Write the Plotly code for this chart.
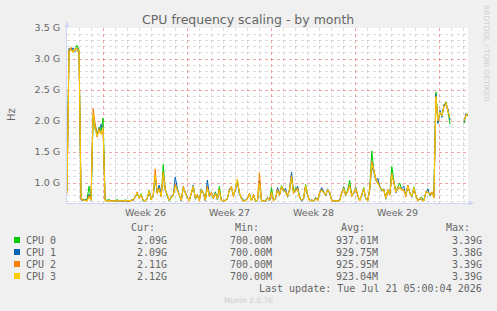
import plotly.graph_objects as go
from datetime import datetime, timedelta

# ---------------- data (GHz, one sample every 4 hours from 2026-06-19 00:00) ----------------
START = datetime(2026, 6, 19)
STEP_HOURS = 4
X_RANGE = ["2026-06-19 00:00", "2026-07-22 08:00"]

cpu0 = [
    0.86, 3.15, 3.18, 3.12, 3.16, 3.22, 3.14, 0.77, 0.73, 0.72,
    0.74, 0.95, 0.73, 2.08, 1.86, 1.78, 1.90, 1.84, 2.05, 0.74,
    0.72, 0.74, 0.71, 0.72, 0.71, 0.74, 0.71, 0.72, 0.71, 0.73,
    0.72, 0.71, 0.72, 0.75, 0.77, 0.83, 0.78, 0.83, 0.72, 0.71,
    0.76, 0.89, 0.73, 0.81, 1.10, 0.84, 0.91, 0.79, 1.30, 0.89,
    0.81, 0.71, 0.77, 0.79, 0.96, 0.91, 0.81, 0.72, 0.94, 0.84,
    0.77, 0.72, 0.85, 0.94, 0.76, 0.81, 0.72, 0.89, 0.85, 0.73,
    0.93, 0.79, 0.85, 0.75, 0.86, 0.75, 0.95, 0.72, 0.72, 0.72,
    0.76, 0.89, 0.94, 0.79, 0.91, 1.05, 0.83, 0.76, 0.71, 0.72,
    0.75, 0.83, 0.72, 0.81, 0.71, 0.72, 1.02, 0.72, 0.71, 0.73,
    0.75, 0.72, 0.93, 0.72, 0.75, 0.89, 0.81, 0.96, 0.89, 0.85,
    0.79, 0.89, 1.08, 0.84, 0.93, 0.91, 0.77, 0.72, 0.76, 0.98,
    0.81, 0.72, 0.73, 0.71, 0.75, 0.72, 0.85, 0.89, 0.85, 0.81,
    0.89, 0.85, 0.73, 0.71, 0.72, 0.71, 0.72, 0.85, 0.94, 0.81,
    0.89, 1.05, 0.79, 0.85, 0.93, 0.81, 0.72, 0.81, 0.93, 0.76,
    0.72, 0.91, 1.52, 1.21, 1.06, 0.99, 0.96, 0.89, 0.89, 0.76,
    0.89, 0.81, 1.27, 1.04, 0.86, 0.94, 1.00, 0.89, 0.89, 0.81,
    0.96, 0.84, 0.79, 0.94, 0.79, 0.72, 0.76, 0.77, 0.72, 0.86,
    0.85, 0.81, 0.85, 0.79, 2.47, 1.98, 2.14, 2.09, 2.24, 2.31,
    2.17, 1.95, None, None, None, None, None, None, 1.96, 2.11,
    2.09,
]

cpu1 = [
    0.90, 3.17, 3.13, 3.18, 3.12, 3.15, 3.12, 0.73, 0.72, 0.74,
    0.72, 0.82, 0.72, 2.05, 1.95, 1.80, 1.82, 1.95, 1.88, 0.73,
    0.71, 0.72, 0.72, 0.71, 0.71, 0.71, 0.72, 0.71, 0.72, 0.71,
    0.71, 0.71, 0.73, 0.72, 0.79, 0.82, 0.77, 0.81, 0.71, 0.73,
    0.74, 0.87, 0.75, 0.78, 1.08, 0.86, 0.97, 0.81, 1.12, 0.91,
    0.79, 0.72, 0.79, 0.81, 1.10, 0.92, 0.83, 0.71, 0.92, 0.86,
    0.75, 0.73, 0.83, 0.97, 0.74, 0.79, 0.73, 0.91, 0.83, 0.71,
    1.05, 0.81, 0.83, 0.77, 0.85, 0.73, 0.86, 0.73, 0.71, 0.72,
    0.74, 0.91, 0.92, 0.81, 0.88, 1.03, 0.82, 0.76, 0.73, 0.72,
    0.76, 0.81, 0.73, 0.79, 0.73, 0.71, 1.04, 0.73, 0.72, 0.71,
    0.77, 0.71, 0.84, 0.73, 0.74, 0.93, 0.83, 0.94, 0.87, 0.92,
    0.77, 0.91, 1.18, 0.86, 0.87, 0.95, 0.79, 0.71, 0.74, 0.96,
    0.79, 0.73, 0.71, 0.72, 0.77, 0.73, 0.83, 0.93, 0.87, 0.79,
    0.91, 0.83, 0.73, 0.72, 0.71, 0.72, 0.73, 0.83, 0.93, 0.79,
    0.87, 0.96, 0.81, 0.83, 0.93, 0.79, 0.73, 0.79, 0.91, 0.74,
    0.73, 0.89, 1.25, 1.18, 1.04, 1.08, 0.94, 0.87, 0.91, 0.74,
    0.87, 0.83, 1.10, 1.03, 0.84, 0.92, 0.93, 0.91, 0.95, 0.79,
    0.94, 0.86, 0.77, 0.92, 0.79, 0.73, 0.74, 0.73, 0.72, 0.84,
    0.91, 0.79, 0.83, 0.79, 2.43, 1.96, 2.18, 2.06, 2.27, 2.26,
    2.20, 2.02, None, None, None, None, None, None, 1.98, 2.12,
    2.09,
]

cpu2 = [
    0.83, 3.14, 3.19, 3.11, 3.15, 3.18, 3.12, 0.74, 0.73, 0.72,
    0.72, 0.80, 0.73, 2.20, 1.92, 1.74, 1.88, 1.80, 1.86, 0.72,
    0.72, 0.71, 0.72, 0.71, 0.71, 0.72, 0.72, 0.71, 0.71, 0.72,
    0.71, 0.72, 0.71, 0.73, 0.77, 0.86, 0.75, 0.80, 0.73, 0.71,
    0.76, 0.86, 0.73, 0.82, 1.23, 0.83, 0.92, 0.78, 1.18, 0.88,
    0.82, 0.73, 0.76, 0.82, 0.98, 0.88, 0.80, 0.73, 0.95, 0.83,
    0.78, 0.71, 0.86, 0.93, 0.76, 0.82, 0.71, 0.88, 0.86, 0.73,
    0.95, 0.78, 0.86, 0.75, 0.82, 0.76, 0.90, 0.71, 0.73, 0.72,
    0.76, 0.88, 0.95, 0.78, 0.92, 1.02, 0.86, 0.74, 0.71, 0.72,
    0.74, 0.84, 0.71, 0.82, 0.71, 0.73, 1.17, 0.71, 0.72, 0.71,
    0.75, 0.73, 0.86, 0.71, 0.76, 0.90, 0.80, 0.93, 0.90, 0.88,
    0.80, 0.88, 1.12, 0.83, 0.90, 0.92, 0.76, 0.73, 0.76, 0.95,
    0.82, 0.71, 0.73, 0.72, 0.75, 0.71, 0.86, 0.90, 0.84, 0.82,
    0.88, 0.86, 0.71, 0.72, 0.71, 0.72, 0.71, 0.86, 0.90, 0.82,
    0.86, 0.97, 0.78, 0.86, 0.90, 0.82, 0.71, 0.82, 0.90, 0.76,
    0.71, 0.92, 1.35, 1.22, 1.08, 1.02, 0.93, 0.90, 0.88, 0.76,
    0.90, 0.80, 1.15, 1.00, 0.87, 0.90, 0.94, 0.88, 0.90, 0.78,
    0.97, 0.83, 0.80, 0.90, 0.80, 0.71, 0.76, 0.73, 0.71, 0.87,
    0.84, 0.82, 0.86, 0.76, 2.38, 2.04, 2.12, 2.10, 2.22, 2.30,
    2.15, 2.08, None, None, None, None, None, None, 2.02, 2.08,
    2.11,
]

cpu3 = [
    0.85, 3.12, 3.15, 3.10, 3.17, 3.12, 3.14, 0.76, 0.72, 0.73,
    0.71, 0.78, 0.72, 2.10, 1.88, 1.76, 1.85, 1.78, 1.90, 0.72,
    0.71, 0.72, 0.71, 0.71, 0.72, 0.71, 0.71, 0.72, 0.71, 0.71,
    0.72, 0.71, 0.72, 0.74, 0.78, 0.84, 0.76, 0.82, 0.72, 0.72,
    0.75, 0.88, 0.74, 0.80, 1.12, 0.85, 0.90, 0.80, 1.15, 0.90,
    0.80, 0.72, 0.78, 0.80, 0.95, 0.90, 0.82, 0.72, 0.93, 0.85,
    0.76, 0.72, 0.84, 0.95, 0.75, 0.80, 0.72, 0.90, 0.84, 0.72,
    0.92, 0.80, 0.84, 0.76, 0.84, 0.74, 0.88, 0.72, 0.72, 0.71,
    0.75, 0.90, 0.93, 0.80, 0.90, 1.07, 0.84, 0.75, 0.72, 0.71,
    0.75, 0.82, 0.72, 0.80, 0.72, 0.72, 1.00, 0.72, 0.71, 0.72,
    0.76, 0.72, 0.85, 0.72, 0.75, 0.88, 0.82, 0.95, 0.88, 0.86,
    0.78, 0.90, 1.10, 0.85, 0.88, 0.90, 0.78, 0.72, 0.75, 0.97,
    0.80, 0.72, 0.72, 0.71, 0.76, 0.72, 0.84, 0.88, 0.86, 0.80,
    0.90, 0.84, 0.72, 0.71, 0.72, 0.71, 0.72, 0.84, 0.92, 0.80,
    0.88, 0.95, 0.80, 0.84, 0.92, 0.80, 0.72, 0.80, 0.92, 0.75,
    0.72, 0.90, 1.30, 1.20, 1.05, 1.00, 0.95, 0.88, 0.90, 0.75,
    0.88, 0.82, 1.12, 1.02, 0.85, 0.93, 0.92, 0.90, 0.88, 0.80,
    0.95, 0.85, 0.78, 0.93, 0.78, 0.72, 0.75, 0.72, 0.72, 0.85,
    0.86, 0.80, 0.84, 0.78, 2.40, 2.00, 2.15, 2.08, 2.25, 2.28,
    2.18, 2.05, None, None, None, None, None, None, 2.00, 2.10,
    2.12,
]

series_names = ["CPU 0", "CPU 1", "CPU 2", "CPU 3"]
series_colors = ["#00CC00", "#0066B3", "#FF8000", "#FFCC00"]
stat_cur = ["2.09G", "2.09G", "2.11G", "2.12G"]
stat_min = ["700.00M", "700.00M", "700.00M", "700.00M"]
stat_avg = ["937.01M", "929.75M", "925.95M", "923.04M"]
stat_max = ["3.39G", "3.38G", "3.39G", "3.39G"]

week_starts = ["2026-06-22", "2026-06-29", "2026-07-06", "2026-07-13"]
week_labels = ["Week 26", "Week 27", "Week 28", "Week 29"]

title_text = "CPU frequency scaling - by month"
y_title = "Hz"
last_update = "Last update: Tue Jul 21 05:00:04 2026"
footer = "Munin 2.0.76"
side_text = "RRDTOOL / TOBI OETIKER"

# ---------------- figure ----------------
W, H = 497, 311
L, R, T, B = 67, 468, 28, 203  # plot area in pixels

def px(x):
    return (x - L) / (R - L)

def py(y):
    return (B - y) / (B - T)

times = [START + timedelta(hours=STEP_HOURS * i) for i in range(len(cpu3))]
week_mid = [datetime.fromisoformat(d) + timedelta(days=3.5) for d in week_starts]

FONT = "DejaVu Sans"
MONO = "DejaVu Sans Mono"
FC = "#666666"
MAJOR = "rgba(230,90,90,0.55)"
MINOR = "rgba(190,190,190,0.55)"
AXIS = "#CFD6F8"

fig = go.Figure()
for name, vals, color in zip(series_names, [cpu0, cpu1, cpu2, cpu3], series_colors):
    fig.add_trace(go.Scatter(x=times, y=vals, mode="lines", name=name,
                             line=dict(color=color, width=1),
                             connectgaps=False, hoverinfo="skip"))

fig.update_layout(
    width=W, height=H,
    margin=dict(l=L, r=W - R, t=T, b=H - B, pad=0),
    paper_bgcolor="#F0F0F0", plot_bgcolor="#FFFFFF",
    showlegend=False,
    font=dict(family=FONT, color=FC, size=9.5),
    xaxis=dict(type="date", range=X_RANGE, tickmode="linear", tick0="2026-06-22",
               dtick=7 * 86400000, showticklabels=False, ticks="",
               showgrid=True, gridcolor=MAJOR, griddash="dot", gridwidth=1,
               minor=dict(tickmode="linear", tick0="2026-06-19", dtick=86400000,
                          showgrid=True, gridcolor=MINOR, griddash="dot", gridwidth=1),
               showline=True, linecolor=AXIS, linewidth=1, zeroline=False,
               fixedrange=True),
    yaxis=dict(range=[0.68, 3.5], tickmode="linear", tick0=0, dtick=0.5,
               tickformat=".1f", ticksuffix=" G", ticks="",
               showgrid=True, gridcolor=MAJOR, griddash="dot", gridwidth=1,
               minor=dict(tickmode="linear", tick0=0, dtick=0.1, showgrid=True,
                          gridcolor=MINOR, griddash="dot", gridwidth=1),
               showline=True, linecolor=AXIS, linewidth=1, zeroline=False,
               tickfont=dict(family=FONT, size=9.5, color=FC),
               ticklabelstandoff=4, fixedrange=True),
)

ann = []
def text(x, y, s, anchor="left", size=10, family=MONO, color=FC, angle=0):
    ann.append(dict(x=px(x), y=py(y), xref="paper", yref="paper", text=s,
                    showarrow=False, xanchor=anchor, yanchor="middle",
                    borderpad=0, borderwidth=0, textangle=angle,
                    font=dict(family=family, size=size, color=color)))

text(248, 19, title_text, "center", 12.5, FONT)
text(11, 115, y_title, "center", 10, FONT, angle=-90)
text(487, 53, side_text, "center", 7.5, FONT, "#D0D0D0", angle=90)
text(248, 300, footer, "center", 7.5, FONT, "#CCCCCC")

# week labels placed on the time axis
for wm, lab in zip(week_mid, week_labels):
    ann.append(dict(x=wm, xref="x", y=py(212), yref="paper", text=lab,
                    showarrow=False, xanchor="center", yanchor="middle",
                    borderpad=0, borderwidth=0,
                    font=dict(family=FONT, size=9.5, color=FC)))

# legend table
for hdr, xr in zip(["Cur:", "Min:", "Avg:", "Max:"], [155, 259, 365, 470]):
    text(xr, 227, hdr, "right")
shapes = []
for k, (name, color) in enumerate(zip(series_names, series_colors)):
    yc = 240 + 12 * k
    shapes.append(dict(type="rect", xref="paper", yref="paper",
                       x0=px(14), x1=px(20), y0=py(yc - 3), y1=py(yc + 3),
                       fillcolor=color, line=dict(width=0)))
    text(26, yc, name, "left")
    text(167, yc, stat_cur[k], "right")
    text(272, yc, stat_min[k], "right")
    text(378, yc, stat_avg[k], "right")
    text(482, yc, stat_max[k], "right")
text(482, 288, last_update, "right")

# axis arrows
shapes.append(dict(type="line", xref="paper", yref="paper", x0=px(67), x1=px(67),
                   y0=py(28), y1=py(22), line=dict(color=AXIS, width=1)))
shapes.append(dict(type="path", xref="paper", yref="paper",
                   path=f"M {px(64.5)} {py(27)} L {px(69.5)} {py(27)} L {px(67)} {py(21.5)} Z",
                   fillcolor=AXIS, line=dict(width=0)))
shapes.append(dict(type="line", xref="paper", yref="paper", x0=px(468), x1=px(473),
                   y0=py(203), y1=py(203), line=dict(color=AXIS, width=1)))
shapes.append(dict(type="path", xref="paper", yref="paper",
                   path=f"M {px(468.5)} {py(200.5)} L {px(468.5)} {py(205.5)} L {px(474)} {py(203)} Z",
                   fillcolor=AXIS, line=dict(width=0)))

fig.update_layout(annotations=ann, shapes=shapes)
fig.write_html("out.html", config={"displayModeBar": False})
